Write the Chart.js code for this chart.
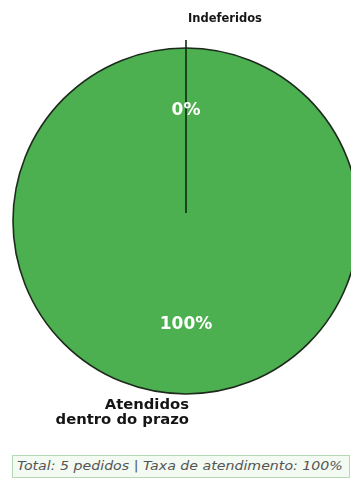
<!DOCTYPE html>
<html>
<head>
<meta charset="utf-8">
<script src="https://cdn.jsdelivr.net/npm/chart.js@4"></script>
<style>
  html, body { margin: 0; padding: 0; background: #ffffff; }
  #wrap { position: relative; width: 351px; height: 486px; overflow: hidden; }
  #c { position: absolute; left: 0; top: 0; }
  #footer {
    position: absolute; left: 12px; top: 455px; height: 23px; width: 338px;
    border: 1px solid #b5d8b5; background: #f2faf2;
    font-family: "DejaVu Sans", sans-serif; font-style: italic; font-size: 12px;
    color: #555; line-height: 21px; padding-left: 4px; box-sizing: border-box;
    white-space: nowrap; overflow: hidden;
  }
  #footer span { display: inline-block; transform: scaleX(1.18); transform-origin: 0 50%; }
</style>
</head>
<body>
<div id="wrap">
  <canvas id="c" width="351" height="486"></canvas>
  <div id="footer"><span id="ftxt"></span></div>
</div>
<script>
// ---- data ----
const categories = ['Atendidos\ndentro do prazo', 'Indeferidos'];
const values = [5, 0];
const sliceColors = ['#4caf50', '#4caf50'];
const footerTotalLabel = 'Total: 5 pedidos';
const footerRateLabel = 'Taxa de atendimento: 100%';

const total = values.reduce((a, b) => a + b, 0);
const pctLabels = values.map(v => Math.round(v / total * 100) + '%');

document.getElementById('ftxt').textContent = footerTotalLabel + ' | ' + footerRateLabel;

const piePlugin = {
  id: 'pieDecor',
  afterDatasetsDraw(chart) {
    const meta = chart.getDatasetMeta(0);
    const arc0 = meta.data[0];
    const cx = arc0.x, cy = arc0.y, r = arc0.outerRadius;
    const ctx = chart.ctx;
    ctx.save();
    // outline
    ctx.beginPath();
    ctx.arc(cx, cy, r, 0, Math.PI * 2);
    ctx.lineWidth = 1.6;
    ctx.strokeStyle = '#1c2a1c';
    ctx.stroke();
    // zero-slice divider at its start angle
    const a1 = meta.data[1].startAngle;
    ctx.beginPath();
    ctx.moveTo(cx + Math.cos(a1) * r * 0.046, cy + Math.sin(a1) * r * 0.046);
    ctx.lineTo(cx + Math.cos(a1) * r * 1.046, cy + Math.sin(a1) * r * 1.046);
    ctx.lineWidth = 1.6;
    ctx.strokeStyle = '#0f2a0f';
    ctx.stroke();

    // percentage labels
    ctx.fillStyle = '#ffffff';
    ctx.font = 'bold 17px "DejaVu Sans"';
    ctx.textAlign = 'center';
    ctx.textBaseline = 'middle';
    meta.data.forEach((el, i) => {
      let mid;
      if (values[i] === 0) mid = el.startAngle;
      else mid = (el.startAngle + el.endAngle) / 2;
      const d = values[i] === 0 ? 0.64 : 0.6;
      ctx.fillText(pctLabels[i], cx + Math.cos(mid) * r * d, cy + Math.sin(mid) * r * d);
    });

    // category labels
    ctx.fillStyle = '#151515';
    meta.data.forEach((el, i) => {
      let mid;
      if (values[i] === 0) mid = el.startAngle;
      else mid = (el.startAngle + el.endAngle) / 2;
      const ld = values[i] === 0 ? 1.17 : 1.11;
      const x = cx + Math.cos(mid) * r * ld + (values[i] === 0 ? 2 : 3);
      const y = cy + Math.sin(mid) * r * ld;
      const lines = categories[i].split('\n');
      const fs = values[i] === 0 ? 11.5 : 14.8;
      ctx.font = 'bold ' + fs + 'px "DejaVu Sans"';
      ctx.textAlign = values[i] === 0 ? 'left' : 'right';
      const lh = fs * 1.0;
      const y0 = y - (lines.length - 1) * lh / 2;
      lines.forEach((ln, k) => ctx.fillText(ln, x, y0 + k * lh));
    });
    ctx.restore();
  }
};

new Chart(document.getElementById('c'), {
  type: 'pie',
  data: {
    labels: categories,
    datasets: [{
      data: values,
      backgroundColor: sliceColors,
      borderWidth: 0,
      clip: false
    }]
  },
  options: {
    responsive: false,
    animation: false,
    devicePixelRatio: 1,
    radius: 173,
    layout: { padding: { left: 21, right: 0, top: 0, bottom: 44 } },
    plugins: { legend: { display: false }, tooltip: { enabled: false } }
  },
  plugins: [piePlugin]
});
</script>
</body>
</html>
